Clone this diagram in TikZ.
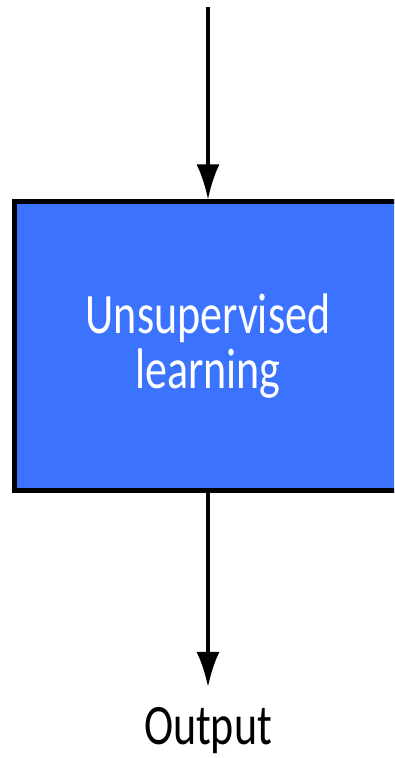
\documentclass[tikz,border=0pt]{standalone}
\usepackage{fontspec}
\setmainfont{Carlito}
\usetikzlibrary{arrows.meta}
\definecolor{bleuboite}{RGB}{59,115,255}
\newcommand{\etire}[1]{\scalebox{1}[1.3]{#1}}
\begin{document}
\begin{tikzpicture}[x=1pt,y=1pt]
% Styles
\tikzstyle{fleche}=[-{Latex[length=35pt,width=23pt]},line width=3.5pt]
\tikzstyle{boite}=[draw=black,line width=5pt,fill=bleuboite,text=white,minimum width=388pt,minimum height=289pt,align=center,inner sep=0pt]
\tikzstyle{etiquette}=[align=center,inner sep=0pt]
% Dimensions
\def\Largeur{394}
\def\Hauteur{758}
\def\Axe{208}
% Cadre
\useasboundingbox (0,0) rectangle (\Largeur,\Hauteur);
\clip (0,0) rectangle (\Largeur,\Hauteur);
% Noeuds
\coordinate (E) at (\Axe,751);
\node[boite,font=\fontsize{44}{55}\selectfont] (B) at (\Axe,411.5) {\etire{Unsupervised}\\\etire{learning}};
\node[etiquette,anchor=north,font=\fontsize{44}{55}\selectfont] (S) at (\Axe,51) {\etire{Output}};
% Arcs
\draw[fleche] (E)--(B.north);
\draw[fleche,shorten >=20pt] (B.south)--(S.north);
\end{tikzpicture}
\end{document}
